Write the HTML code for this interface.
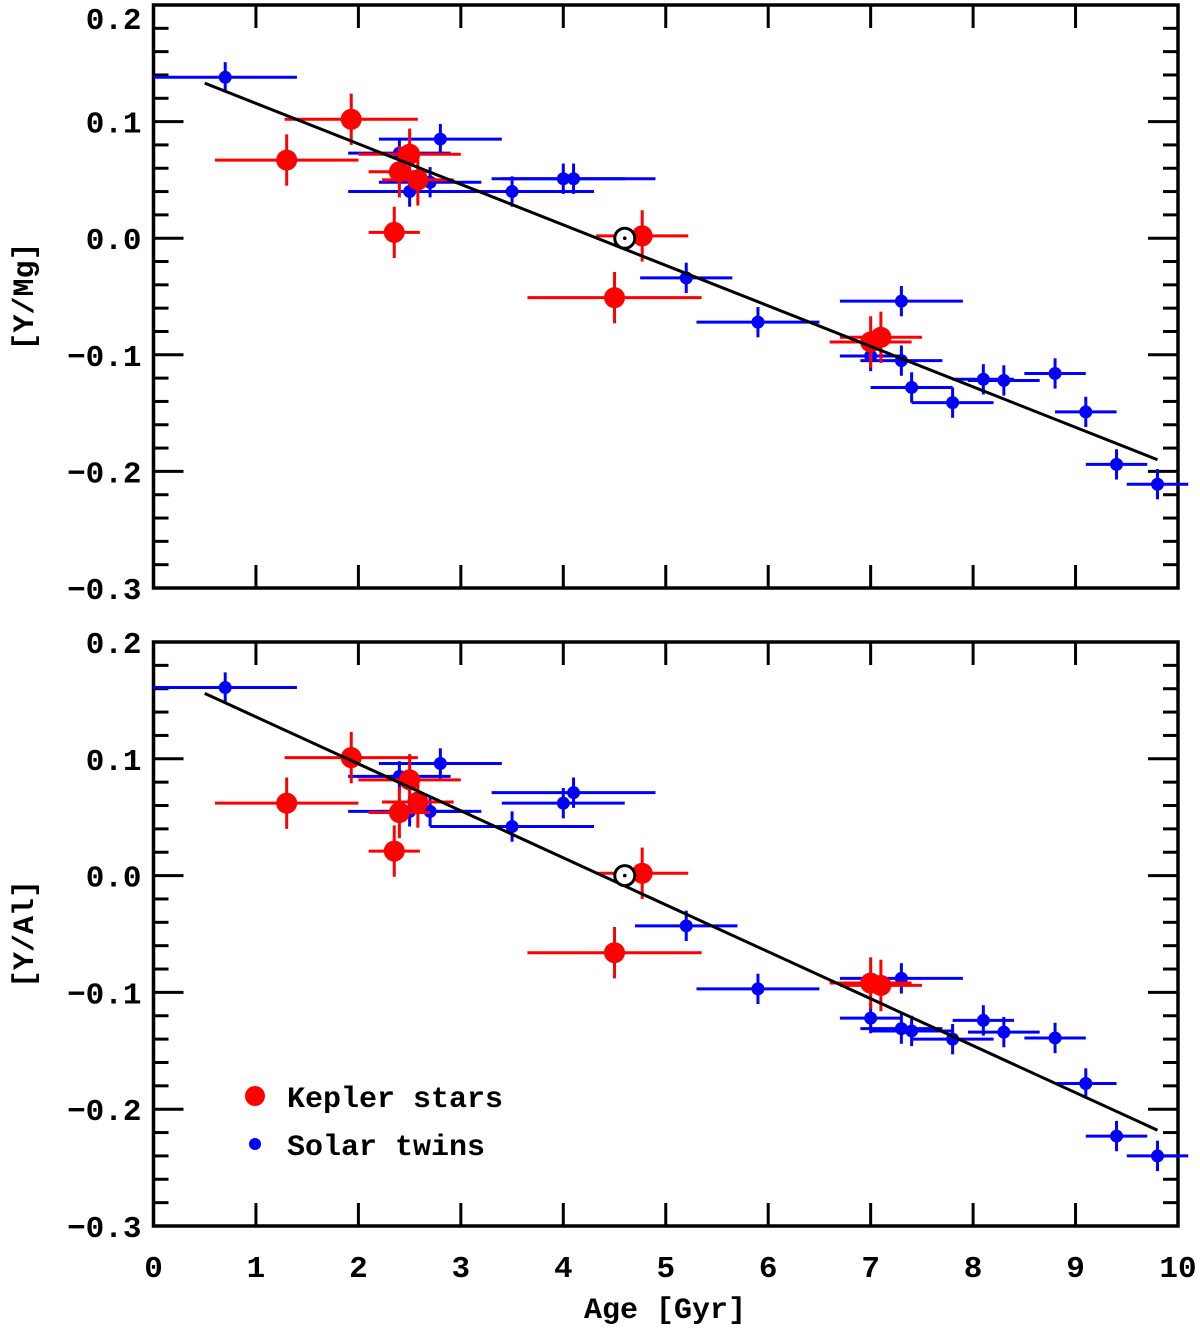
<!DOCTYPE html>
<html><head><meta charset="utf-8"><style>
html,body{margin:0;padding:0;background:#fff;}
svg text{font-family:"Liberation Mono",monospace;font-weight:bold;fill:#000;}
</style></head><body>
<svg id="chart" width="1200" height="1327" viewBox="0 0 1200 1327" xmlns="http://www.w3.org/2000/svg"></svg>
<script>
const xTicks=[0,1,2,3,4,5,6,7,8,9,10];
const yTicks=[0.2,0.1,0.0,-0.1,-0.2,-0.3];
const yTickLabels=["0.2","0.1","0.0","\u22120.1","\u22120.2","\u22120.3"];
// Top panel [Y/Mg]
const mgBlueAge=[0.7,2.4,2.8,2.5,2.7,3.5,4.0,4.1,5.2,5.9,7.0,7.3,7.3,7.4,7.8,8.1,8.3,8.8,9.1,9.4,9.8];
const mgBlueVal=[0.138,0.073,0.085,0.040,0.048,0.040,0.051,0.051,-0.034,-0.072,-0.101,-0.054,-0.105,-0.128,-0.141,-0.121,-0.122,-0.116,-0.149,-0.194,-0.211];
const mgBlueXerr=[0.7,0.5,0.6,0.6,0.5,0.8,0.6,0.8,0.45,0.6,0.3,0.6,0.4,0.4,0.4,0.3,0.35,0.3,0.3,0.3,0.3];
const mgRedAge=[1.3,1.93,2.35,2.4,2.5,2.58,4.5,4.77,7.0,7.1];
const mgRedVal=[0.067,0.102,0.005,0.057,0.072,0.050,-0.051,0.002,-0.089,-0.085];
const mgRedXerr=[0.7,0.65,0.25,0.3,0.5,0.35,0.85,0.45,0.4,0.4];
const mgFit=[[0.5,0.133],[9.8,-0.19]];
// Bottom panel [Y/Al]
const alBlueAge=[0.7,2.4,2.8,2.5,2.7,3.5,4.0,4.1,5.2,5.9,7.0,7.3,7.3,7.4,7.8,8.1,8.3,8.8,9.1,9.4,9.8];
const alBlueVal=[0.161,0.085,0.096,0.055,0.055,0.042,0.062,0.071,-0.043,-0.097,-0.122,-0.088,-0.131,-0.133,-0.140,-0.124,-0.134,-0.139,-0.178,-0.223,-0.240];
const alBlueXerr=[0.7,0.5,0.6,0.6,0.5,0.8,0.6,0.8,0.5,0.6,0.3,0.6,0.4,0.4,0.4,0.3,0.35,0.3,0.3,0.3,0.3];
const alRedAge=[1.3,1.93,2.35,2.4,2.5,2.58,4.5,4.77,7.0,7.1];
const alRedVal=[0.062,0.101,0.021,0.054,0.082,0.063,-0.066,0.002,-0.092,-0.094];
const alRedXerr=[0.7,0.65,0.25,0.3,0.5,0.35,0.85,0.45,0.4,0.4];
const alFit=[[0.5,0.156],[9.8,-0.218]];
const sunAge=4.6, sunVal=0.0;

const NS="http://www.w3.org/2000/svg";
const svg=document.getElementById('chart');
function el(t,a,p){const e=document.createElementNS(NS,t);for(const k in a)e.setAttribute(k,a[k]);(p||svg).appendChild(e);return e;}
const L=153.5,R=1178;
function xs(v){return L+(v-0)/10*(R-L);}

function panel(top,bot,name,label,bA,bV,bX,rA,rV,rX,fit,showX){
  const g=el('g',{});
  
  
  const y=v=>bot-(v+0.3)/0.5*(bot-top);
  for(let i=0;i<=25;i++){const v=-0.3+i*0.02;const yy=y(v);const major=i%5===0;const len=major?30:15;
    el('line',{x1:L,x2:L+len,y1:yy,y2:yy,stroke:'#000','stroke-width':3},g);
    el('line',{x1:R,x2:R-len,y1:yy,y2:yy,stroke:'#000','stroke-width':3},g);}
  yTicks.forEach((v,i)=>{let yy=y(v)+11; if(yy<26) yy=29;
    const t=el('text',{x:L-12,y:yy,'text-anchor':'end','font-size':31},g);t.textContent=yTickLabels[i];
    });
  xTicks.forEach(v=>{const xx=xs(v);
    el('line',{x1:xx,x2:xx,y1:bot,y2:bot-23,stroke:'#000','stroke-width':3},g);
    el('line',{x1:xx,x2:xx,y1:top,y2:top+23,stroke:'#000','stroke-width':3},g);
    if(showX){const t=el('text',{x:xx,y:bot+51,'text-anchor':'middle','font-size':31},g);t.textContent=String(v);
      }});
  el('rect',{x:L,y:top,width:R-L,height:bot-top,fill:'none',stroke:'#000','stroke-width':3.5},g);
  const yl=el('text',{x:0,y:0,'text-anchor':'middle','font-size':30,transform:`translate(33,${(top+bot)/2}) rotate(-90)`},g);
  yl.textContent=label;
  
  bA.forEach((a,i)=>{const cx=xs(a),cy=y(bV[i]);
    const p=el('g',{},g);
    
    el('line',{x1:xs(a-bX[i]),x2:xs(a+bX[i]),y1:cy,y2:cy,stroke:'#0000ff','stroke-width':3},p);
    el('line',{x1:cx,x2:cx,y1:y(bV[i]+0.013),y2:y(bV[i]-0.013),stroke:'#0000ff','stroke-width':3},p);
    el('circle',{cx:cx,cy:cy,r:6.5,fill:'#0000ff'},p);});
  rA.forEach((a,i)=>{const cx=xs(a),cy=y(rV[i]);
    const p=el('g',{},g);
    
    el('line',{x1:xs(a-rX[i]),x2:xs(a+rX[i]),y1:cy,y2:cy,stroke:'#ff0000','stroke-width':3},p);
    el('line',{x1:cx,x2:cx,y1:y(rV[i]+0.022),y2:y(rV[i]-0.022),stroke:'#ff0000','stroke-width':3},p);
    el('circle',{cx:cx,cy:cy,r:10.5,fill:'#ff0000'},p);});
  const fl=el('line',{x1:xs(fit[0][0]),y1:y(fit[0][1]),x2:xs(fit[1][0]),y2:y(fit[1][1]),stroke:'#000','stroke-width':3},g);
  
  const s=el('g',{},g);
  
  el('circle',{cx:xs(sunAge),cy:y(sunVal),r:10,fill:'#fff',stroke:'#000','stroke-width':3},s);
  el('circle',{cx:xs(sunAge),cy:y(sunVal),r:1.8,fill:'#000'},s);
}
panel(5,588,'panel-y-mg','[Y/Mg]',mgBlueAge,mgBlueVal,mgBlueXerr,mgRedAge,mgRedVal,mgRedXerr,mgFit,false);
panel(642,1226,'panel-y-al','[Y/Al]',alBlueAge,alBlueVal,alBlueXerr,alRedAge,alRedVal,alRedXerr,alFit,true);

const xt=el('text',{x:665,y:1318,'text-anchor':'middle','font-size':30});
xt.textContent='Age [Gyr]';



const lg=el('g',{});


el('circle',{cx:255,cy:1096,r:10,fill:'#ff0000'},lg);
el('circle',{cx:255,cy:1144,r:6,fill:'#0000ff'},lg);
const t1=el('text',{x:287,y:1107,'font-size':30},lg);t1.textContent='Kepler stars';


const t2=el('text',{x:287,y:1155,'font-size':30},lg);t2.textContent='Solar twins';


</script>
</body></html>
